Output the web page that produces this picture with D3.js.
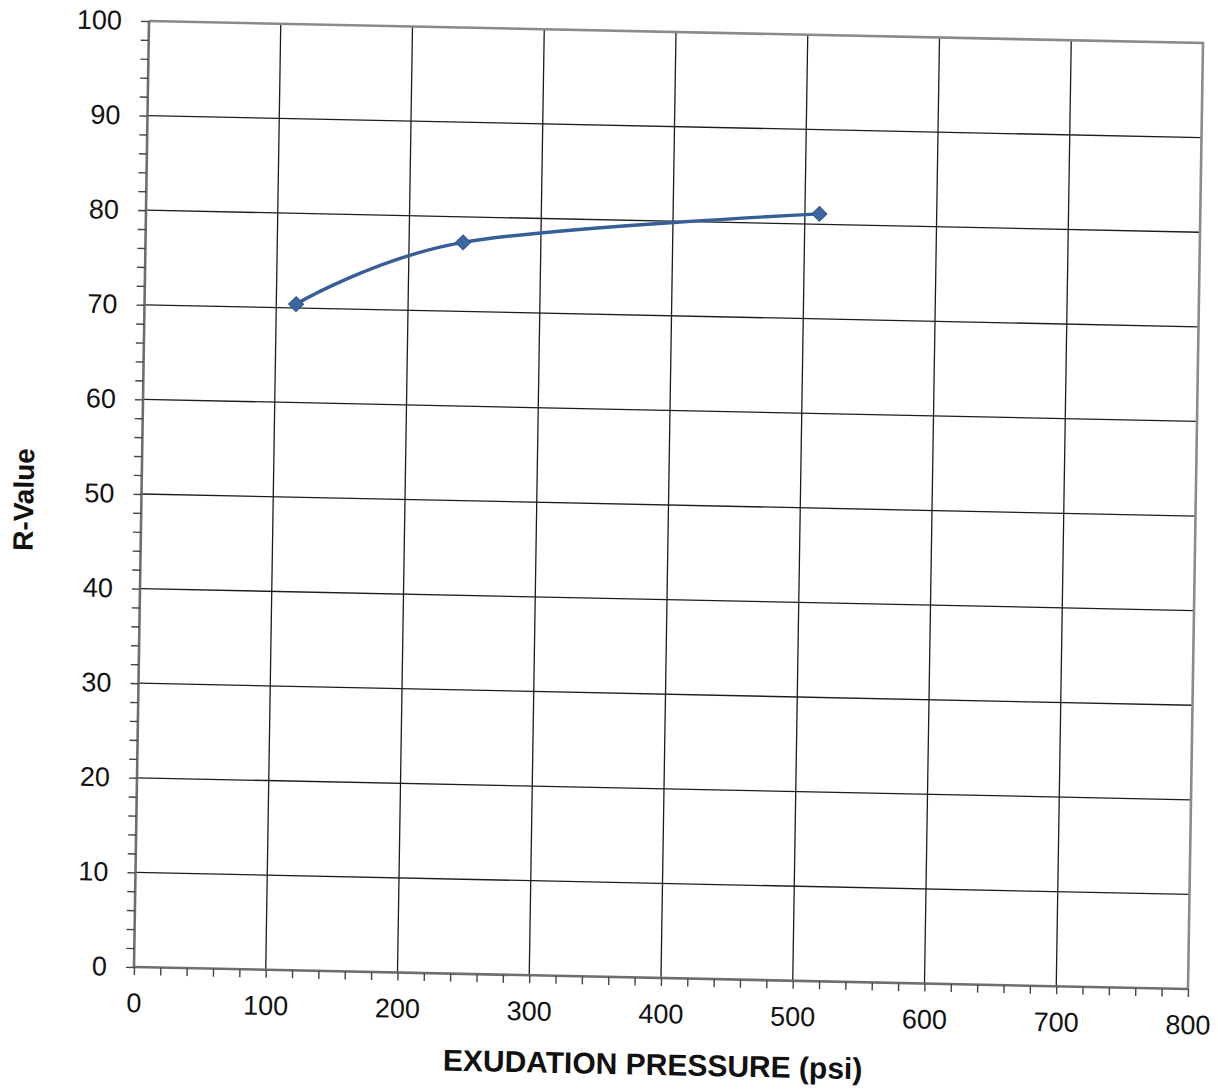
<!DOCTYPE html>
<html>
<head>
<meta charset="utf-8">
<script src="https://cdn.jsdelivr.net/npm/d3@7"></script>
<style>
  body { margin: 0; background: #fff; }
  text { font-family: "Liberation Sans", Arial, sans-serif; fill: #111; }
</style>
</head>
<body>
<div id="chart"></div>
<script>
// data
const pressure = [115, 241, 511];      // exudation pressure (psi)
const rValue = [70.4, 77.3, 81.1];     // R-value
const xTickLabels = [0, 100, 200, 300, 400, 500, 600, 700, 800];
const yTickLabels = [0, 10, 20, 30, 40, 50, 60, 70, 80, 90, 100];

const totalW = 1218, totalH = 1090;
const width = 1054, height = 946;

const svg = d3.select("#chart")
    .append("svg")
    .attr("width", totalW)
    .attr("height", totalH);

// the scan is slightly tilted, so the whole plot sits in a skewed frame
const g = svg.append("g")
    .attr("transform", `matrix(1,0.0209,-0.01586,1,149,21)`);

const x = d3.scaleLinear().domain([0, 800]).range([0, width]);
const y = d3.scaleLinear().domain([0, 100]).range([height, 0]);

// grid lines
g.append("g").selectAll("line.vgrid")
    .data(xTickLabels.filter(d => d > 0 && d < 800))
    .enter().append("line")
    .attr("x1", d => x(d)).attr("x2", d => x(d))
    .attr("y1", 0).attr("y2", height)
    .style("stroke", "#1c1c1c")
    .style("stroke-width", 1.3);

g.append("g").selectAll("line.hgrid")
    .data(yTickLabels.filter(d => d > 0 && d < 100))
    .enter().append("line")
    .attr("x1", 0).attr("x2", width)
    .attr("y1", d => y(d)).attr("y2", d => y(d))
    .style("stroke", "#1c1c1c")
    .style("stroke-width", 1.3);

// plot border (top + right)
g.append("path")
    .attr("d", `M0,0H${width}V${height}`)
    .style("fill", "none")
    .style("stroke", "#8a8a8a")
    .style("stroke-width", 2.6);

// axes: minor ticks every 20 / every 2, labels only on the majors
const xAxis = g.append("g")
    .attr("transform", `translate(0,${height})`)
    .call(d3.axisBottom(x)
        .tickValues(d3.range(0, 801, 20))
        .tickSize(8)
        .tickPadding(18)
        .tickFormat(d => xTickLabels.includes(d) ? d : ""));

const yAxis = g.append("g")
    .call(d3.axisLeft(y)
        .tickValues(d3.range(0, 101, 2))
        .tickSize(8)
        .tickPadding(19)
        .tickFormat(d => yTickLabels.includes(d) ? d : ""));

[xAxis, yAxis].forEach(a => {
    a.select(".domain")
        .attr("d", a === xAxis ? `M0,0H${width}` : `M0,0V${height}`)
        .style("stroke", "#6e6e6e")
        .style("stroke-width", 2.6);
    a.selectAll(".tick line").style("stroke", "#444").style("stroke-width", 1.4);
    a.selectAll(".tick text")
        .style("font-size", "27px")
        .style("font-family", "'Liberation Sans', Arial, sans-serif")
        .style("fill", "#111");
});

// axis titles
g.append("text")
    .attr("x", width / 2 - 7)
    .attr("y", height + 97)
    .attr("text-anchor", "middle")
    .style("font-size", "30px")
    .style("font-weight", "bold")
    .text("EXUDATION PRESSURE (psi)");

g.append("text")
    .attr("transform", `translate(-108,${height / 2 + 8}) rotate(-90)`)
    .attr("text-anchor", "middle")
    .style("font-size", "28px")
    .style("font-weight", "bold")
    .text("R-Value");

// smoothed series line + diamond markers
const pts = pressure.map((p, i) => [p, rValue[i]]);

g.append("path")
    .datum(pts)
    .attr("d", d3.line()
        .x(d => x(d[0]))
        .y(d => y(d[1]))
        .curve(d3.curveCardinal.tension(0)))
    .style("fill", "none")
    .style("stroke", "#355f96")
    .style("stroke-width", 3.4);

g.append("g").selectAll("path.marker")
    .data(pts)
    .enter().append("path")
    .attr("class", "marker")
    .attr("d", d3.symbol(d3.symbolSquare, 112))
    .attr("transform", d => `translate(${x(d[0])},${y(d[1])}) rotate(45)`)
    .style("fill", "#3b67a2")
    .style("stroke", "#2d5388")
    .style("stroke-width", 1);
</script>
</body>
</html>
